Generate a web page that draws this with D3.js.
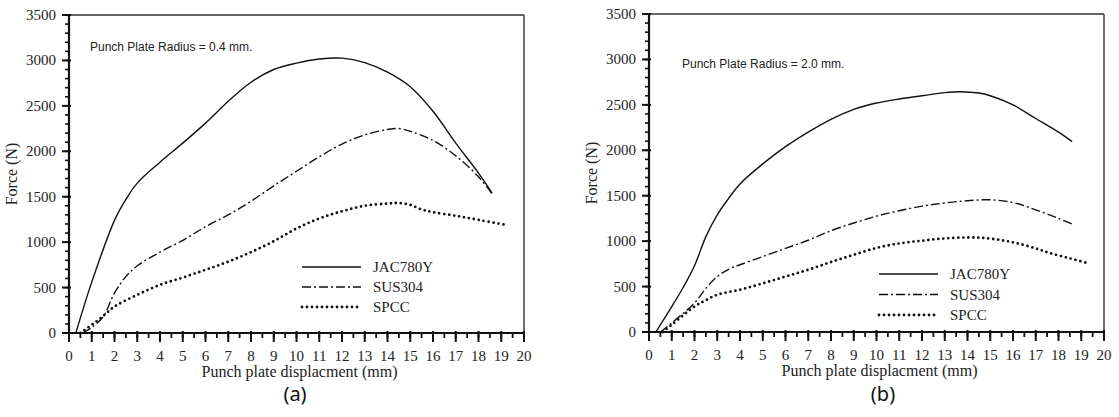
<!DOCTYPE html>
<html>
<head>
<meta charset="utf-8">
<script src="https://cdn.jsdelivr.net/npm/d3@7"></script>
<style>
  body { margin: 0; background: #fff; }
  svg { display: block; }
</style>
</head>
<body>
<svg id="chart"></svg>
<script>
const W = 1119, H = 417;

// x = punch plate displacement (mm), f = force (N)
const seriesNames = ["JAC780Y", "SUS304", "SPCC"];
const xTicks = d3.range(0, 21, 1);
const yTicks = d3.range(0, 3501, 500);

// panel (a): radius 0.4 mm
const jacA_x = [0.3, 1, 2, 2.5, 3, 4, 5, 6, 7, 8, 9, 10, 11, 12, 13, 14, 15, 16, 17, 18, 18.6];
const jacA_f = [0, 560, 1240, 1470, 1650, 1880, 2090, 2310, 2550, 2760, 2900, 2970, 3015, 3025, 2975, 2870, 2710, 2440, 2090, 1760, 1540];
const susA_x = [0.6, 1, 1.5, 2, 2.5, 3, 4, 5, 6, 7, 8, 9, 10, 11, 12, 13, 14, 14.5, 15, 16, 17, 18, 18.6];
const susA_f = [0, 60, 180, 440, 620, 740, 890, 1020, 1170, 1300, 1450, 1620, 1780, 1940, 2080, 2180, 2240, 2250, 2220, 2120, 1950, 1720, 1530];
const spcA_x = [0.5, 1, 1.4, 2, 3, 4, 5, 6, 7, 8, 9, 10, 11, 12, 13, 14, 14.5, 15, 15.5, 16, 17, 18, 19.2];
const spcA_f = [0, 90, 165, 290, 420, 530, 610, 695, 785, 890, 1010, 1150, 1260, 1340, 1400, 1425, 1430, 1410, 1360, 1330, 1290, 1245, 1190];

// panel (b): radius 2.0 mm
const jacB_x = [0.3, 1, 1.5, 2, 2.5, 3, 3.5, 4, 5, 6, 7, 8, 9, 10, 11, 12, 13, 13.7, 14.5, 15, 16, 17, 18, 18.6];
const jacB_f = [0, 280, 490, 730, 1050, 1290, 1470, 1630, 1850, 2040, 2200, 2340, 2450, 2520, 2565, 2600, 2635, 2645, 2630, 2600, 2500, 2350, 2200, 2096];
const susB_x = [0.5, 1, 2, 2.5, 3, 3.5, 4, 5, 6, 7, 8, 9, 10, 11, 12, 13, 14, 15, 16, 17, 18, 18.7];
const susB_f = [0, 100, 320, 480, 610, 690, 740, 830, 920, 1010, 1115, 1200, 1275, 1335, 1385, 1420, 1445, 1455, 1425, 1345, 1250, 1178];
const spcB_x = [0.6, 1, 2, 2.5, 3, 4, 5, 6, 7, 8, 9, 10, 11, 12, 13, 14, 14.7, 15.5, 16.2, 17, 17.6, 18.5, 19.3];
const spcB_f = [0, 80, 280, 350, 410, 465, 535, 610, 685, 770, 850, 925, 975, 1005, 1030, 1040, 1035, 1010, 975, 920, 870, 810, 757];

const serif = "'Liberation Serif', 'Times New Roman', serif";
const sans = "'Liberation Sans', Arial, sans-serif";

const svg = d3.select("#chart").attr("width", W).attr("height", H);

const styles = [
  { dash: null, width: 1.4, cap: "butt" },
  { dash: "9,3,2,3", width: 1.4, cap: "butt" },
  { dash: "0,5", width: 2.8, cap: "round" }
];

function drawPanel(p) {
  const x = d3.scaleLinear().domain([0, 20]).range([p.left, p.right]);
  const y = d3.scaleLinear().domain([0, 3500]).range([p.bottom, p.top]);
  const g = svg.append("g");

  // frame top / right
  g.append("line").attr("x1", p.left).attr("x2", p.right).attr("y1", p.top).attr("y2", p.top)
    .attr("stroke", "#333").attr("stroke-width", 1.4);
  g.append("line").attr("x1", p.right).attr("x2", p.right).attr("y1", p.top).attr("y2", p.bottom)
    .attr("stroke", "#333").attr("stroke-width", 1.4);

  // minor ticks
  g.selectAll("line.ymin").data(d3.range(0, 3501, 100)).enter().append("line")
    .attr("x1", p.left - 4).attr("x2", p.left + 1)
    .attr("y1", d => y(d)).attr("y2", d => y(d))
    .attr("stroke", "#111").attr("stroke-width", 1.6);
  g.selectAll("line.xmin").data(d3.range(0, 20.01, 0.5)).enter().append("line")
    .attr("x1", d => x(d)).attr("x2", d => x(d))
    .attr("y1", p.bottom - 1).attr("y2", p.bottom + 5)
    .attr("stroke", "#111").attr("stroke-width", 1.8);

  // major ticks
  g.selectAll("line.ymaj").data(yTicks).enter().append("line")
    .attr("x1", p.left - 7).attr("x2", p.left + 2)
    .attr("y1", d => y(d)).attr("y2", d => y(d))
    .attr("stroke", "#111").attr("stroke-width", 2);
  g.selectAll("line.xmaj").data(xTicks).enter().append("line")
    .attr("x1", d => x(d)).attr("x2", d => x(d))
    .attr("y1", p.bottom - 2).attr("y2", p.bottom + 9)
    .attr("stroke", "#111").attr("stroke-width", 2);

  // axis lines
  g.append("line").attr("x1", p.left).attr("x2", p.left).attr("y1", p.top).attr("y2", p.bottom)
    .attr("stroke", "#111").attr("stroke-width", 2.2);
  g.append("line").attr("x1", p.left).attr("x2", p.right).attr("y1", p.bottom).attr("y2", p.bottom)
    .attr("stroke", "#111").attr("stroke-width", 2.2);

  // tick labels
  g.selectAll("text.yl").data(yTicks).enter().append("text")
    .attr("x", p.left - 13).attr("y", d => y(d) + 5)
    .attr("text-anchor", "end")
    .attr("font-family", serif).attr("font-size", 15).attr("fill", "#222")
    .text(d => d);
  g.selectAll("text.xl").data(xTicks).enter().append("text")
    .attr("x", d => x(d)).attr("y", p.bottom + 28)
    .attr("text-anchor", "middle")
    .attr("font-family", serif).attr("font-size", 15).attr("fill", "#222")
    .text(d => d);

  // axis titles
  g.append("text")
    .attr("x", (p.left + p.right) / 2 + 3).attr("y", p.bottom + 44)
    .attr("text-anchor", "middle")
    .attr("font-family", serif).attr("font-size", 16).attr("fill", "#222")
    .text("Punch plate displacment (mm)");
  g.append("text")
    .attr("transform", `translate(${p.left - 52},${(p.top + p.bottom) / 2}) rotate(-90)`)
    .attr("text-anchor", "middle")
    .attr("font-family", serif).attr("font-size", 16).attr("fill", "#222")
    .text("Force (N)");

  // annotation
  g.append("text")
    .attr("x", p.left + p.noteDx).attr("y", p.noteY)
    .attr("font-family", sans).attr("font-size", 12).attr("fill", "#222")
    .text(p.note);

  // curves
  const line = d3.line()
    .x(d => x(d[0])).y(d => y(d[1]))
    .curve(d3.curveCatmullRom.alpha(0.5));
  p.series.forEach((s, i) => {
    const pts = s.x.map((v, j) => [v, s.f[j]]);
    g.append("path").datum(pts)
      .attr("d", line)
      .attr("fill", "none")
      .attr("stroke", "#111")
      .attr("stroke-width", styles[i].width)
      .attr("stroke-linecap", styles[i].cap)
      .attr("stroke-dasharray", styles[i].dash);
  });

  // legend
  seriesNames.forEach((name, i) => {
    const ly = p.legY + i * p.legStep;
    g.append("line")
      .attr("x1", p.legX).attr("x2", p.legX + 59)
      .attr("y1", ly).attr("y2", ly)
      .attr("stroke", "#111")
      .attr("stroke-width", styles[i].width)
      .attr("stroke-linecap", styles[i].cap)
      .attr("stroke-dasharray", styles[i].dash);
    g.append("text")
      .attr("x", p.legX + 71).attr("y", ly + 5)
      .attr("font-family", serif).attr("font-size", 15).attr("fill", "#222")
      .text(name);
  });

  // panel label
  g.append("text")
    .attr("x", p.labelX).attr("y", 401)
    .attr("text-anchor", "middle")
    .attr("font-family", "'Noto Sans', sans-serif").attr("font-size", 20).attr("fill", "#111")
    .text(p.label);
}

drawPanel({
  left: 69, right: 524, top: 15, bottom: 333,
  note: "Punch Plate Radius = 0.4 mm.", noteDx: 21, noteY: 51,
  legX: 302, legY: 267, legStep: 20,
  label: "(a)", labelX: 295,
  series: [
    { x: jacA_x, f: jacA_f },
    { x: susA_x, f: susA_f },
    { x: spcA_x, f: spcA_f }
  ]
});

drawPanel({
  left: 649, right: 1104, top: 14, bottom: 332,
  note: "Punch Plate Radius = 2.0 mm.", noteDx: 33, noteY: 68,
  legX: 879, legY: 274, legStep: 20.5,
  label: "(b)", labelX: 883,
  series: [
    { x: jacB_x, f: jacB_f },
    { x: susB_x, f: susB_f },
    { x: spcB_x, f: spcB_f }
  ]
});
</script>
</body>
</html>
